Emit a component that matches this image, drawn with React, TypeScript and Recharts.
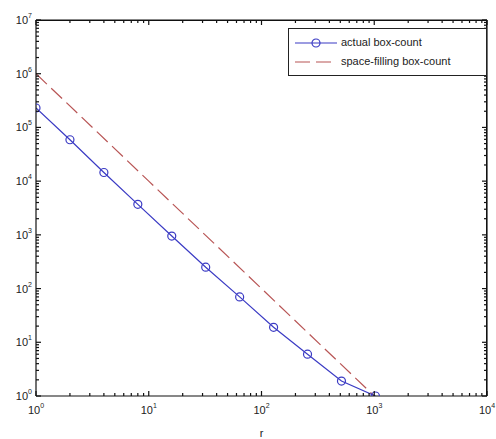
import { LineChart, Line, XAxis, YAxis, ReferenceLine } from 'recharts'

// box counts for r = 2^k
const rValues = [1, 2, 4, 8, 16, 32, 64, 128, 256, 512, 1024]
const actualCounts = [230000, 59000, 14500, 3700, 950, 250, 70, 19, 6, 1.9, 1]

// space-filling reference: N = (1000 / r)^2
const fillR = [1, 10, 100, 1000]
const fillCounts = [1000000, 10000, 100, 1]

const xMajor = [1, 10, 100, 1000, 10000]
const yMajor = [1, 10, 100, 1000, 10000, 100000, 1000000, 10000000]

const actual = rValues.map((r, i) => ({ r, n: actualCounts[i] }))
const filling = fillR.map((r, i) => ({ r, n: fillCounts[i] }))

const minorTicks = (majors: number[]) => {
  const out: number[] = []
  majors.forEach((m, i) => {
    out.push(m)
    if (i < majors.length - 1) for (let k = 2; k <= 9; k++) out.push(m * k)
  })
  return out
}
const xTicks = minorTicks(xMajor)
const yTicks = minorTicks(yMajor)

const BLUE = '#3b3bc4'
const RED = '#b85555'
const INK = '#111'
const font = 'Liberation Sans, Arial, sans-serif'

// plot box edges (px)
const TOP = 20
const BOTTOM = 396
const LEFT = 36
const RIGHT = 487

const isMajor = (v: number) => Math.abs(Math.log10(v) - Math.round(Math.log10(v))) < 1e-9

const Pow = ({ x, y, v, anchor }: { x: number; y: number; v: number; anchor: 'middle' | 'end' }) => (
  <text x={x} y={y} textAnchor={anchor} fontSize={11} fontFamily={font} fill="#222">
    10
    <tspan fontSize={7} dy={-6}>{Math.round(Math.log10(v))}</tspan>
  </text>
)

// ticks go inward on bottom and mirrored on top
const XTick = (props: any) => {
  const { x, payload } = props
  const v = payload.value
  const len = isMajor(v) ? 5 : 3
  return (
    <g>
      <line x1={x} x2={x} y1={BOTTOM} y2={BOTTOM - len} stroke={INK} strokeWidth={1.2} />
      <line x1={x} x2={x} y1={TOP} y2={TOP + len} stroke={INK} strokeWidth={1.2} />
      {isMajor(v) && <Pow x={x} y={BOTTOM + 18} v={v} anchor="middle" />}
    </g>
  )
}

const YTick = (props: any) => {
  const { y, payload } = props
  const v = payload.value
  const len = isMajor(v) ? 5 : 3
  return (
    <g>
      <line x1={LEFT} x2={LEFT + len} y1={y} y2={y} stroke={INK} strokeWidth={1.2} />
      <line x1={RIGHT} x2={RIGHT - len} y1={y} y2={y} stroke={INK} strokeWidth={1.2} />
      {isMajor(v) && <Pow x={LEFT - 4} y={y + 4} v={v} anchor="end" />}
    </g>
  )
}

const LegendBox = () => (
  <div
    style={{
      position: 'absolute',
      left: 288,
      top: 28,
      width: 185,
      border: '1px solid #222',
      background: '#fff',
      padding: '4px 6px',
      fontFamily: font,
      fontSize: 11,
      color: '#222',
      lineHeight: '19px',
    }}
  >
    <div style={{ display: 'flex', alignItems: 'center' }}>
      <svg width={42} height={12} style={{ marginRight: 4 }}>
        <line x1={0} x2={42} y1={6} y2={6} stroke={BLUE} strokeWidth={1.2} />
        <circle cx={21} cy={6} r={4} fill="none" stroke={BLUE} strokeWidth={1.2} />
      </svg>
      actual box-count
    </div>
    <div style={{ display: 'flex', alignItems: 'center' }}>
      <svg width={42} height={12} style={{ marginRight: 4 }}>
        <line x1={0} x2={42} y1={6} y2={6} stroke={RED} strokeWidth={1.2} strokeDasharray="15 6" />
      </svg>
      space-filling box-count
    </div>
  </div>
)

export default function App() {
  return (
    <div style={{ position: 'absolute', left: 0, top: 0, width: 496, height: 439, background: '#fff' }}>
      <LineChart width={496} height={439} margin={{ top: TOP, right: 496 - RIGHT, bottom: 0, left: 0 }}>
        <XAxis
          dataKey="r"
          type="number"
          scale="log"
          domain={[1, 10000]}
          ticks={xTicks}
          interval={0}
          tick={<XTick />}
          tickLine={false}
          axisLine={{ stroke: INK, strokeWidth: 1.2 }}
          height={439 - BOTTOM}
          allowDataOverflow
          label={{ value: 'r', position: 'insideBottom', offset: 2, fontSize: 11, fontFamily: font, fill: '#222' }}
        />
        <YAxis
          dataKey="n"
          type="number"
          scale="log"
          domain={[1, 10000000]}
          ticks={yTicks}
          interval={0}
          tick={<YTick />}
          tickLine={false}
          axisLine={{ stroke: INK, strokeWidth: 1.2 }}
          width={LEFT}
          allowDataOverflow
        />
        {/* frame: top and right edges */}
        <ReferenceLine y={10000000} stroke={INK} strokeWidth={1.2} ifOverflow="visible" />
        <ReferenceLine x={10000} stroke={INK} strokeWidth={1.2} ifOverflow="visible" />
        <Line
          data={filling}
          dataKey="n"
          stroke={RED}
          strokeWidth={1.2}
          strokeDasharray="15 6"
          dot={false}
          isAnimationActive={false}
        />
        <Line
          data={actual}
          dataKey="n"
          stroke={BLUE}
          strokeWidth={1.2}
          dot={{ r: 4, stroke: BLUE, strokeWidth: 1.2, fill: 'none' }}
          isAnimationActive={false}
        />
      </LineChart>
      {/* plot box outline, drawn on top as a fallback */}
      <div
        style={{
          position: 'absolute',
          left: LEFT,
          top: TOP,
          width: RIGHT - LEFT - 1,
          height: BOTTOM - TOP - 1,
          borderTop: `1px solid ${INK}`,
          borderRight: `1px solid ${INK}`,
          pointerEvents: 'none',
        }}
      />
      <LegendBox />
    </div>
  )
}
